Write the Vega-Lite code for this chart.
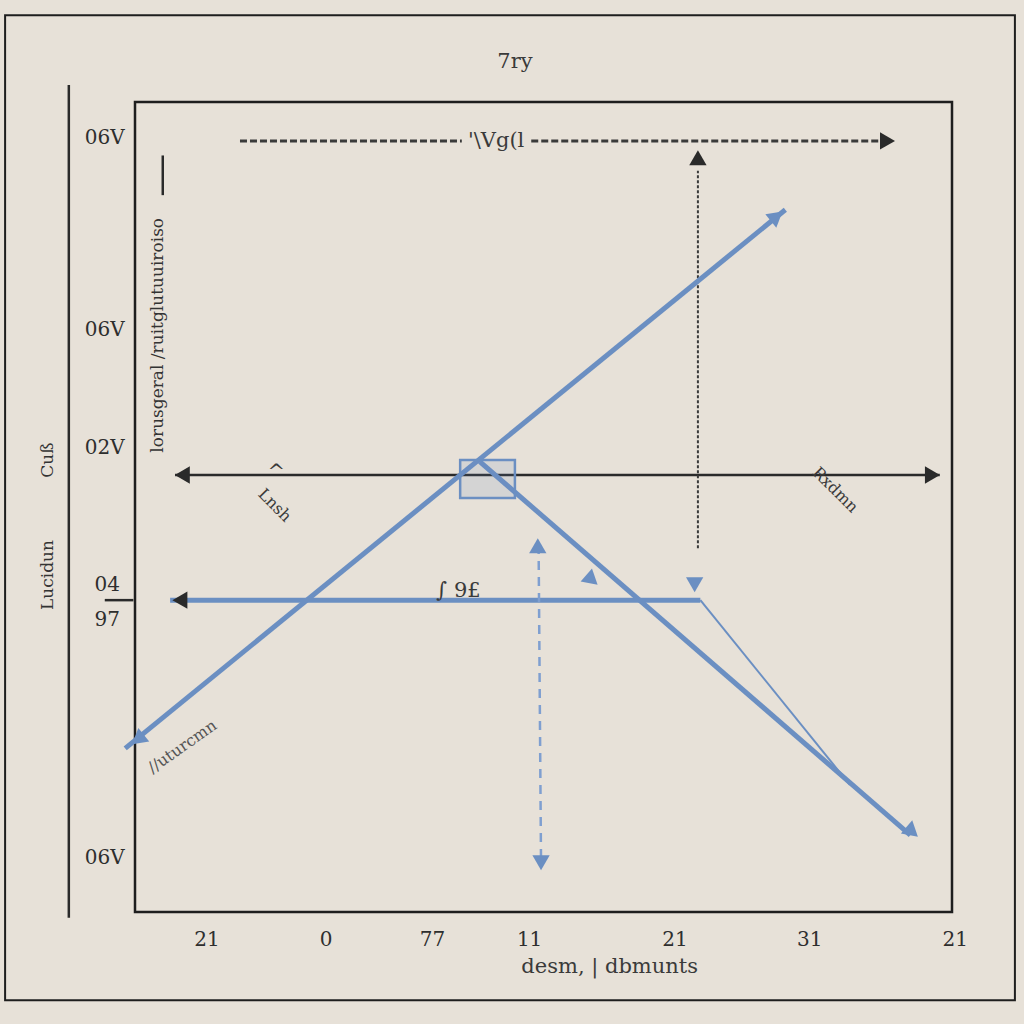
{
  "$schema": "https://vega.github.io/schema/vega-lite/v6.json",
  "width": 817,
  "height": 810,
  "autosize": {"type": "none"},
  "padding": {"left": 135, "top": 102, "right": 72, "bottom": 112},
  "background": "#e7e1d8",
  "config": {"view": {"stroke": "#1e1e1e", "strokeWidth": 2.5}},
  "datasets": {
    "frame": [{"x": -15.9, "y": -10.9, "x2": 107.7, "y2": 110.7}],
    "box": [{"x": 39.8, "y": 55.8, "x2": 46.5, "y2": 51.1}],
    "inkSolid": [
      {"x": -8.1, "y": 102.1, "x2": -8.1, "y2": -0.7},
      {"x": 4.9, "y": 53.95, "x2": 98.5, "y2": 53.95},
      {"x": 3.4, "y": 93.4, "x2": 3.4, "y2": 88.5},
      {"x": -3.7, "y": 38.5, "x2": -0.2, "y2": 38.5}
    ],
    "inkDashH": [
      {"x": 12.85, "y": 95.2, "x2": 40.0, "y2": 95.2},
      {"x": 48.5, "y": 95.2, "x2": 91.0, "y2": 95.2}
    ],
    "inkDashV": [
      {"x": 68.9, "y": 44.9, "x2": 68.9, "y2": 91.5}
    ],
    "blueThick": [
      {"x": -1.2, "y": 20.2, "x2": 79.6, "y2": 86.7},
      {"x": 42.2, "y": 55.6, "x2": 94.9, "y2": 9.5},
      {"x": 4.3, "y": 38.5, "x2": 69.2, "y2": 38.5}
    ],
    "blueThin": [
      {"x": 69.2, "y": 38.5, "x2": 87.5, "y2": 15.7}
    ],
    "blueDash": [
      {"x": 49.4, "y": 45.3, "x2": 49.7, "y2": 5.8}
    ],
    "arrows": [
      {"x": 91.8, "y": 95.2, "dir": 90, "kind": "ink"},
      {"x": 68.9, "y": 92.8, "dir": 0, "kind": "ink"},
      {"x": 6.1, "y": 53.95, "dir": 270, "kind": "ink"},
      {"x": 97.3, "y": 53.95, "dir": 90, "kind": "ink"},
      {"x": 5.8, "y": 38.5, "dir": 270, "kind": "ink"},
      {"x": 78.3, "y": 85.7, "dir": 50.8, "kind": "blue"},
      {"x": 0.6, "y": 21.5, "dir": 230.8, "kind": "blue"},
      {"x": 94.9, "y": 10.1, "dir": 131, "kind": "blue"},
      {"x": 55.7, "y": 41.2, "dir": 131, "kind": "blue"},
      {"x": 49.3, "y": 44.9, "dir": 0, "kind": "blue"},
      {"x": 49.7, "y": 6.4, "dir": 180, "kind": "blue"},
      {"x": 68.5, "y": 40.7, "dir": 180, "kind": "blue"}
    ],
    "ticks": [
      {"x": 8.8, "y": -3.46, "t": "21"},
      {"x": 23.4, "y": -3.46, "t": "0"},
      {"x": 36.4, "y": -3.46, "t": "77"},
      {"x": 48.3, "y": -3.46, "t": "11"},
      {"x": 66.1, "y": -3.46, "t": "21"},
      {"x": 82.6, "y": -3.46, "t": "31"},
      {"x": 100.4, "y": -3.46, "t": "21"},
      {"x": -3.7, "y": 95.6, "t": "06V"},
      {"x": -3.7, "y": 71.9, "t": "06V"},
      {"x": -3.7, "y": 57.3, "t": "02V"},
      {"x": -3.4, "y": 40.4, "t": "04"},
      {"x": -3.4, "y": 36.0, "t": "97"},
      {"x": -3.7, "y": 6.7, "t": "06V"}
    ],
    "notes": [
      {"x": 46.5, "y": 104.9, "t": "7ry"},
      {"x": 44.2, "y": 95.2, "t": "'\\Vg(l"},
      {"x": 58.1, "y": -6.8, "t": "desm, | dbmunts"},
      {"x": 17.3, "y": 54.3, "t": "^"},
      {"x": 39.6, "y": 39.6, "t": "∫ 9£"}
    ],
    "vertical": [
      {"x": 2.8, "y": 71.2, "t": "lorusgeral /ruitglutuuiroiso"},
      {"x": -10.6, "y": 41.6, "t": "Lucidun"},
      {"x": -10.6, "y": 55.8, "t": "Cuß"}
    ],
    "down": [
      {"x": 17.1, "y": 50.2, "t": "Lnsh"},
      {"x": 85.7, "y": 52.1, "t": "Rxdmn"}
    ],
    "up": [
      {"x": 5.8, "y": 20.4, "t": "//uturcmn"}
    ]
  },
  "encoding": {
    "x": {"field": "x", "type": "quantitative", "scale": {"domain": [0, 100], "nice": false, "zero": false}, "axis": null},
    "y": {"field": "y", "type": "quantitative", "scale": {"domain": [0, 100], "nice": false, "zero": false}, "axis": null}
  },
  "layer": [
    {
      "data": {"name": "frame"},
      "mark": {"type": "rect", "fill": null, "fillOpacity": 0, "stroke": "#1e1e1e", "strokeWidth": 2, "clip": false},
      "encoding": {"x2": {"field": "x2"}, "y2": {"field": "y2"}}
    },
    {
      "data": {"name": "inkSolid"},
      "mark": {"type": "rule", "color": "#2a2a2a", "strokeWidth": 2.5, "clip": false},
      "encoding": {"x2": {"field": "x2"}, "y2": {"field": "y2"}}
    },
    {
      "data": {"name": "inkDashH"},
      "mark": {"type": "rule", "color": "#3a3a3a", "strokeWidth": 3, "strokeDash": [7, 3]},
      "encoding": {"x2": {"field": "x2"}, "y2": {"field": "y2"}}
    },
    {
      "data": {"name": "inkDashV"},
      "mark": {"type": "rule", "color": "#3a3a3a", "strokeWidth": 2, "strokeDash": [3, 2]},
      "encoding": {"x2": {"field": "x2"}, "y2": {"field": "y2"}}
    },
    {
      "data": {"name": "blueThick"},
      "mark": {"type": "rule", "color": "#6b8fc2", "strokeWidth": 5, "clip": false},
      "encoding": {"x2": {"field": "x2"}, "y2": {"field": "y2"}}
    },
    {
      "data": {"name": "blueThin"},
      "mark": {"type": "rule", "color": "#6b8fc2", "strokeWidth": 2},
      "encoding": {"x2": {"field": "x2"}, "y2": {"field": "y2"}}
    },
    {
      "data": {"name": "blueDash"},
      "mark": {"type": "rule", "color": "#7f9fd0", "strokeWidth": 2.5, "strokeDash": [9, 7]},
      "encoding": {"x2": {"field": "x2"}, "y2": {"field": "y2"}}
    },
    {
      "data": {"name": "box"},
      "mark": {"type": "rect", "fillOpacity": 0.15, "fill": "#6b8fc2", "stroke": "#6b8fc2", "strokeWidth": 2.5},
      "encoding": {"x2": {"field": "x2"}, "y2": {"field": "y2"}}
    },
    {
      "data": {"name": "arrows"},
      "mark": {"type": "point", "shape": "triangle", "filled": true, "size": 300, "opacity": 1, "clip": false},
      "encoding": {
        "angle": {"field": "dir", "type": "quantitative", "scale": null},
        "color": {"field": "kind", "type": "nominal", "scale": {"domain": ["ink", "blue"], "range": ["#2a2a2a", "#6b8fc2"]}, "legend": null}
      }
    },
    {
      "data": {"name": "ticks"},
      "mark": {"type": "text", "font": "DejaVu Serif", "fontSize": 20, "color": "#2e2e2e", "clip": false, "baseline": "middle", "align": "center"},
      "encoding": {"text": {"field": "t"}}
    },
    {
      "data": {"name": "notes"},
      "mark": {"type": "text", "font": "DejaVu Serif", "fontSize": 21, "color": "#3a3a3a", "clip": false, "baseline": "middle", "align": "center"},
      "encoding": {"text": {"field": "t"}}
    },
    {
      "data": {"name": "vertical"},
      "mark": {"type": "text", "font": "DejaVu Serif", "fontSize": 17, "angle": 270, "color": "#333333", "clip": false, "baseline": "middle", "align": "center"},
      "encoding": {"text": {"field": "t"}}
    },
    {
      "data": {"name": "down"},
      "mark": {"type": "text", "font": "DejaVu Serif", "fontSize": 16, "angle": 45, "color": "#3a3a3a", "clip": false, "baseline": "middle", "align": "center"},
      "encoding": {"text": {"field": "t"}}
    },
    {
      "data": {"name": "up"},
      "mark": {"type": "text", "font": "DejaVu Serif", "fontSize": 16, "angle": 325, "color": "#555555", "clip": false, "baseline": "middle", "align": "center"},
      "encoding": {"text": {"field": "t"}}
    }
  ]
}
